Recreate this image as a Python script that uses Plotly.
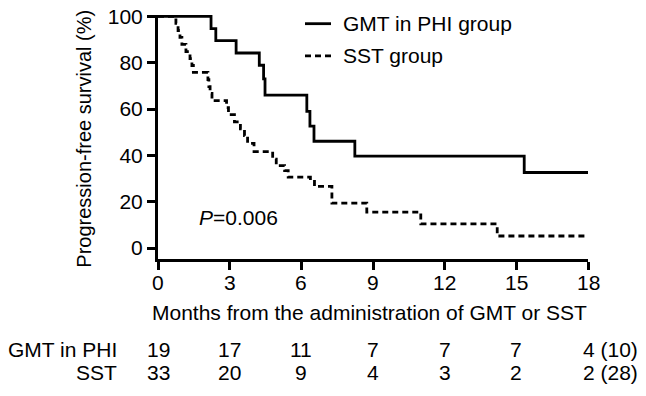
import plotly.graph_objects as go

# ---------------- data ----------------
gmt_months = [0, 2.22, 2.42, 3.27, 4.24, 4.42, 4.48, 6.23, 6.36, 6.53, 8.24, 15.33, 18]
gmt_surv = [100, 94.7, 89.5, 84.2, 78.9, 73.0, 66.0, 59.0, 52.6, 46.1, 39.7, 32.6, 32.6]

sst_months = [0, 0.75, 0.84, 0.92, 1.0, 1.17, 1.34, 1.42, 1.48, 2.09, 2.13, 2.18, 2.26,
              2.87, 2.95, 3.2, 3.45, 3.62, 3.75, 4.02, 4.8, 4.95, 5.3, 5.45, 6.38, 6.55,
              7.28, 8.74, 11.0, 14.2, 18]
sst_surv = [100, 97.0, 93.9, 90.9, 87.9, 84.8, 81.8, 78.8, 75.8, 72.7, 69.7, 66.7, 63.6,
            60.6, 57.6, 54.5, 51.5, 48.5, 45.2, 41.6, 38.4, 35.6, 33.4, 30.6, 28.8, 26.6,
            19.4, 15.5, 10.4, 5.2, 5.2]

x_ticks = [0, 3, 6, 9, 12, 15, 18]
y_ticks = [0, 20, 40, 60, 80, 100]

risk_labels = ["GMT in PHI", "SST"]
risk_gmt = ["19", "17", "11", "7", "7", "7", "4 (10)"]
risk_sst = ["33", "20", "9", "4", "3", "2", "2 (28)"]

legend_names = ["GMT in PHI group", "SST group"]
p_text = "<i>P</i>=0.006"
x_title = "Months from the administration of GMT or SST"
y_title = "Progression-free survival (%)"

# ---------------- layout geometry ----------------
W, H = 646, 396
L, R, T, B = 158, 58, 14.6, 137
PW, PH = W - L - R, H - T - B
FONT = "Liberation Sans, Arial, Helvetica, sans-serif"


def px_x(px):
    return (px - L) / PW


def px_y(py):
    return (H - B - py) / PH


fig = go.Figure()
fig.add_trace(go.Scatter(x=sst_months, y=sst_surv, mode="lines", line_shape="hv",
                         line=dict(color="black", width=2.8, dash="6px,4px"),
                         showlegend=False, hoverinfo="skip"))
fig.add_trace(go.Scatter(x=gmt_months, y=gmt_surv, mode="lines", line_shape="hv",
                         line=dict(color="black", width=2.8),
                         showlegend=False, hoverinfo="skip"))

axis_common = dict(showline=True, linecolor="black", linewidth=3, ticks="outside",
                   ticklen=8, tickwidth=3, tickcolor="black", showgrid=False,
                   zeroline=False, automargin=False,
                   tickfont=dict(family=FONT, size=21, color="black"))
fig.update_xaxes(range=[0, 18], tickvals=x_ticks, showticklabels=False, **axis_common)
fig.update_yaxes(range=[-4.74, 100.6], tickvals=y_ticks, **axis_common)

shapes = []
annotations = []
# x tick labels placed under each tick
for xv in x_ticks:
    annotations.append(dict(text=str(xv), xref="x", yref="paper", x=xv, y=px_y(283),
                            xanchor="center", yanchor="middle", showarrow=False,
                            font=dict(family=FONT, size=21, color="black")))

# legend samples
for i, (name, dash) in enumerate(zip(legend_names, ["solid", "6px,4px"])):
    yy = px_y([23.3, 55.5][i])
    shapes.append(dict(type="line", xref="paper", yref="paper",
                       x0=px_x(305), x1=px_x(331), y0=yy, y1=yy,
                       line=dict(color="black", width=2.8, dash=dash)))
    annotations.append(dict(text=name, xref="paper", yref="paper", x=px_x(341), y=yy,
                            xanchor="left", yanchor="middle", showarrow=False,
                            font=dict(family=FONT, size=21, color="black")))

annotations.append(dict(text=p_text, xref="paper", yref="paper", x=px_x(197), y=px_y(217),
                        xanchor="left", yanchor="middle", showarrow=False,
                        font=dict(family=FONT, size=21, color="black")))
annotations.append(dict(text=x_title, xref="paper", yref="paper", x=px_x(369), y=px_y(313),
                        xanchor="center", yanchor="middle", showarrow=False,
                        font=dict(family=FONT, size=21, color="black")))
annotations.append(dict(text=y_title, xref="paper", yref="paper", x=px_x(84), y=px_y(138.5),
                        xanchor="center", yanchor="middle", showarrow=False, textangle=-90,
                        font=dict(family=FONT, size=20, color="black")))

for row, (lab, vals) in enumerate(zip(risk_labels, [risk_gmt, risk_sst])):
    yy = px_y([350, 373][row])
    annotations.append(dict(text=lab, xref="paper", yref="paper", x=px_x(119), y=yy,
                            xanchor="right", yanchor="middle", showarrow=False,
                            font=dict(family=FONT, size=21, color="black")))
    for xv, v in zip(x_ticks, vals):
        last = xv == x_ticks[-1]
        annotations.append(dict(text=v, xref="x", yref="paper", x=xv, y=yy,
                                xanchor="left" if last else "center", xshift=-7 if last else 0,
                                yanchor="middle", showarrow=False,
                                font=dict(family=FONT, size=21, color="black")))

fig.update_layout(width=W, height=H, margin=dict(l=L, r=R, t=T, b=B, pad=0),
                  paper_bgcolor="white", plot_bgcolor="white",
                  shapes=shapes, annotations=annotations, showlegend=False)

fig.write_html("out.html")
